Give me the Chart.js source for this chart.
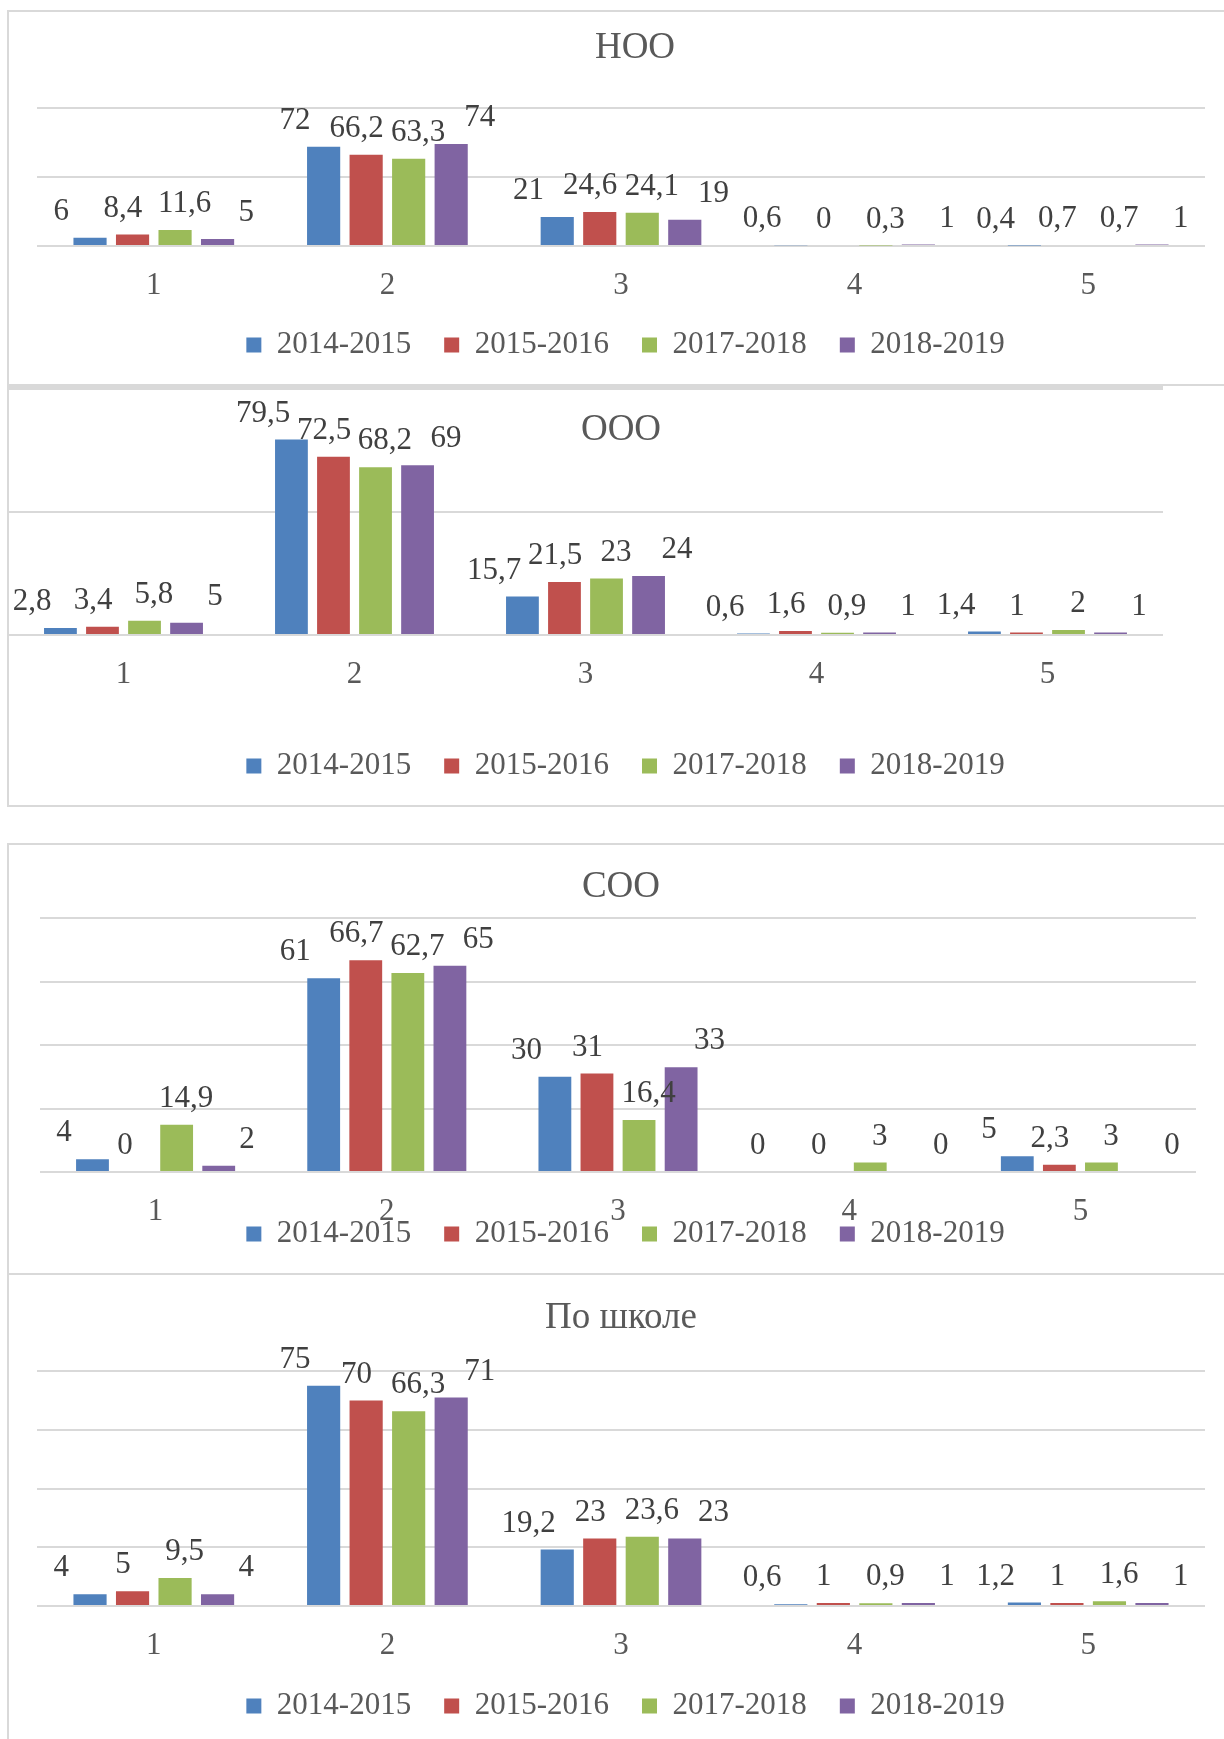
<!DOCTYPE html>
<html><head><meta charset="utf-8">
<script src="https://cdn.jsdelivr.net/npm/chart.js@4.4.1/dist/chart.umd.min.js"></script>
<style>
html,body{margin:0;padding:0;background:#fff;overflow:hidden;width:1224px;height:1739px;position:relative;}
.ln{position:absolute;background:#d9d9d9;}
canvas{position:absolute;left:0;}
</style></head><body>
<div class="ln" style="left:7px;top:10px;width:1217px;height:2px"></div>
<div class="ln" style="left:7px;top:10px;width:2px;height:376px"></div>
<div class="ln" style="left:7px;top:384px;width:1217px;height:2px"></div>
<div class="ln" style="left:7px;top:386px;width:1156px;height:2px"></div>
<div class="ln" style="left:7px;top:386px;width:2px;height:421px"></div>
<div class="ln" style="left:7px;top:805px;width:1217px;height:2px"></div>
<div class="ln" style="left:7px;top:843px;width:1217px;height:2px"></div>
<div class="ln" style="left:7px;top:843px;width:2px;height:896px"></div>
<div class="ln" style="left:7px;top:1273px;width:1217px;height:2px"></div>

<canvas id="c0" width="1251" height="374" style="top:11px"></canvas>
<canvas id="c1" width="1251" height="419" style="top:388px"></canvas>
<canvas id="c2" width="1251" height="430" style="top:844px"></canvas>
<canvas id="c3" width="1251" height="465" style="top:1274px"></canvas>

<script>
// ---- data ----
const categories = ['1', '2', '3', '4', '5'];
const seriesNames = ['2014-2015', '2015-2016', '2017-2018', '2018-2019'];

const nooTitle = 'НОО';
const noo2014 = [6, 72, 21, 0.6, 0.4];
const noo2015 = [8.4, 66.2, 24.6, 0, 0.7];
const noo2017 = [11.6, 63.3, 24.1, 0.3, 0.7];
const noo2018 = [5, 74, 19, 1, 1];

const oooTitle = 'ООО';
const ooo2014 = [2.8, 79.5, 15.7, 0.6, 1.4];
const ooo2015 = [3.4, 72.5, 21.5, 1.6, 1];
const ooo2017 = [5.8, 68.2, 23, 0.9, 2];
const ooo2018 = [5, 69, 24, 1, 1];

const sooTitle = 'СОО';
const soo2014 = [4, 61, 30, 0, 5];
const soo2015 = [0, 66.7, 31, 0, 2.3];
const soo2017 = [14.9, 62.7, 16.4, 3, 3];
const soo2018 = [2, 65, 33, 0, 0];

const schoolTitle = 'По школе';
const school2014 = [4, 75, 19.2, 0.6, 1.2];
const school2015 = [5, 70, 23, 1, 1];
const school2017 = [9.5, 66.3, 23.6, 0.9, 1.6];
const school2018 = [4, 71, 23, 1, 1];

const axisMaxNooOoo = 100, axisStepNooOoo = 50;
const axisMaxSooSchool = 80, axisStepSooSchool = 20;

// ---- styles ----
const FONT = '"Liberation Serif", "Times New Roman", serif';
const colors = ['#4F81BD', '#C0504D', '#9BBB59', '#8064A2'];
const textGray = '#595959';

const titlePlugin = {
  id: 'panelTitle',
  afterDraw(chart, args, opts) {
    const ctx = chart.ctx;
    ctx.save();
    ctx.font = '37px ' + FONT;
    ctx.fillStyle = textGray;
    ctx.textAlign = 'center';
    ctx.textBaseline = 'middle';
    ctx.fillText(opts.text, opts.x, opts.y);
    ctx.restore();
  }
};

const labelPlugin = {
  id: 'barLabels',
  afterDatasetsDraw(chart, args, opts) {
    const ctx = chart.ctx;
    const xs = chart.scales.x;
    ctx.save();
    ctx.font = '31px ' + FONT;
    ctx.fillStyle = '#404040';
    ctx.textAlign = 'center';
    ctx.textBaseline = 'middle';
    chart.data.datasets.forEach((ds, i) => {
      const meta = chart.getDatasetMeta(i);
      meta.data.forEach((bar, j) => {
        const c = xs.getPixelForValue(j);
        const x = c + (bar.x - c) * opts.spread;
        const y = bar.y - opts.lift;
        ctx.fillText(String(ds.data[j]).replace('.', ','), x, y);
      });
    });
    ctx.restore();
  }
};

function makeChart(id, series, title, cfg) {
  new Chart(document.getElementById(id), {
    type: 'bar',
    data: {
      labels: categories,
      datasets: series.map((d, i) => ({
        label: seriesNames[i],
        data: d,
        backgroundColor: colors[i],
        borderWidth: 0,
        categoryPercentage: 0.728,
        barPercentage: 0.78
      }))
    },
    options: {
      responsive: false,
      animation: false,
      layout: { padding: { top: cfg.pt, bottom: cfg.pb, left: 0, right: 0 } },
      scales: {
        x: {
          grid: { display: false, drawTicks: false },
          border: { display: false },
          ticks: { font: { family: FONT, size: 31 }, color: textGray, padding: 21 },
          afterFit: s => { s.height = cfg.xH; s._computeLabelArea = () => undefined; }
        },
        y: {
          min: 0, max: cfg.max,
          ticks: { stepSize: cfg.step, display: false },
          grid: { color: '#d9d9d9', lineWidth: 2, drawTicks: false },
          border: { display: false },
          afterFit: s => { s.width = cfg.left; }
        },
        y2: {
          position: 'right', display: true,
          grid: { display: false, drawTicks: false },
          ticks: { display: false },
          border: { display: false },
          afterFit: s => { s.width = cfg.right; }
        }
      },
      plugins: {
        legend: {
          position: 'bottom',
          labels: { boxWidth: 15, boxHeight: 15, padding: 33, font: { family: FONT, size: 31 }, color: textGray }
        },
        tooltip: { enabled: false },
        panelTitle: { text: title, x: cfg.tx, y: cfg.ty },
        barLabels: { spread: 1.45, lift: 26 }
      }
    },
    plugins: [titlePlugin, labelPlugin]
  });
}

makeChart('c0', [noo2014, noo2015, noo2017, noo2018], nooTitle,
  { pt: 97, pb: 14.5, xH: 50.5, left: 37, right: 46, max: axisMaxNooOoo, step: axisStepNooOoo, tx: 635, ty: 37 });
makeChart('c1', [ooo2014, ooo2015, ooo2017, ooo2018], oooTitle,
  { pt: 1, pb: 15.5, xH: 82.5, left: 8, right: 88, max: axisMaxNooOoo, step: axisStepNooOoo, tx: 621, ty: 42 });
makeChart('c2', [soo2014, soo2015, soo2017, soo2018], sooTitle,
  { pt: 74, pb: 14.5, xH: 13.5, left: 40, right: 55, max: axisMaxSooSchool, step: axisStepSooSchool, tx: 621, ty: 43 });
makeChart('c3', [school2014, school2015, school2017, school2018], schoolTitle,
  { pt: 97, pb: 7.5, xH: 51.5, left: 37, right: 46, max: axisMaxSooSchool, step: axisStepSooSchool, tx: 621, ty: 44 });
</script>
</body></html>
